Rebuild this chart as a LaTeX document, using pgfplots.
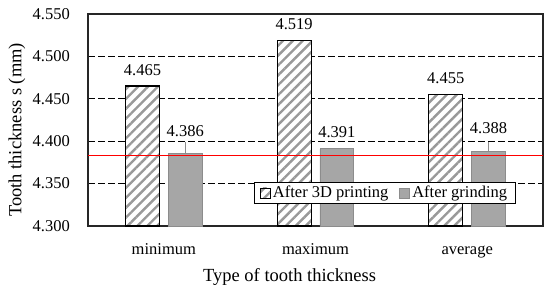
\documentclass[border=0pt]{standalone}
\usepackage{fontspec}
\setmainfont{Liberation Serif}
\usepackage{pgfplots}
\pgfplotsset{compat=1.18}
\usepackage{pgfplotstable}
\usetikzlibrary{patterns.meta}
\definecolor{hatchgray}{HTML}{999999}
\definecolor{bargray}{HTML}{A6A6A6}
\definecolor{bargrayedge}{HTML}{8C8C8C}
\definecolor{framecol}{HTML}{262626}
\definecolor{refred}{HTML}{FF0000}

\pgfplotstableread{
x y lbl lift
0 4.465 4.465 11
1 4.519 4.519 11
2 4.455 4.455 11
}\printing
\pgfplotstableread{
x y lbl lift
0 4.386 4.386 17
1 4.391 4.391 11.5
2 4.388 4.388 18
}\grinding
\pgfplotstableread{
x y err
0.141 4.386 0.013
2.141 4.388 0.011
}\grinderr
\pgfplotstableread{
x y
-0.5 4.383
2.5 4.383
}\refline

\pgfplotsset{barlabels/.style={
  nodes near coords={\pgfplotspointmeta},
  point meta=explicit symbolic,
  visualization depends on={\thisrow{lift}\as\lift},
  every node near coord/.append style={anchor=base, yshift=\lift pt, inner sep=0pt, black},
}}

\begin{document}
\begin{tikzpicture}[font=\fontsize{16.5}{19}\selectfont]
\begin{axis}[
  set layers,
  scale only axis,
  width=455pt, height=212pt,
  xmin=-0.5, xmax=2.5,
  ymin=4.3, ymax=4.55,
  ytick={4.30,4.35,4.40,4.45,4.50,4.55},
  yticklabels={4.300,4.350,4.400,4.450,4.500,4.550},
  xtick={0,1,2},
  xticklabels={minimum,maximum,average},
  major tick length=0pt,
  axis line style={framecol, line width=1.2pt},
  ymajorgrids,
  grid style={black, line width=1pt, dash pattern=on 7pt off 3pt},
  yticklabel style={anchor=east, inner sep=0pt, xshift=-18pt},
  xticklabel style={anchor=base, inner sep=0pt, yshift=-28pt},
  every axis y label/.style={at={(axis description cs:-0.156,0.453)}, anchor=center, rotate=90, font=\fontsize{18.5}{22}\selectfont},
  every axis x label/.style={at={(axis description cs:0.443,-0.263)}, anchor=base, font=\fontsize{18.5}{22}\selectfont},
  ylabel={Tooth thickness s (mm)},
  xlabel={Type of tooth thickness},
  ybar, bar width=0.224,
  legend columns=2,
  legend style={at={(0.652,0.156)}, anchor=center, draw=black, line width=0.9pt,
    inner xsep=6pt, inner ysep=2pt,
    /tikz/every even column/.append style={column sep=9pt}},
  legend image code/.code={\draw[#1, line width=0.8pt] (0pt,-5pt) rectangle (10pt,5pt);},
]
\addplot[color=refred, solid, line width=1.4pt, forget plot, sharp plot, no marks, on layer=axis foreground]
  table[x=x, y=y] {\refline};
\addplot[barlabels, bar shift=-0.141, draw=black, line width=1.2pt, fill=white,
  postaction={pattern={Lines[angle=45,distance=7pt,line width=2.4pt]}, pattern color=hatchgray}]
  table[x=x, y=y, meta=lbl] {\printing};
\addlegendentry{After 3D printing}
\addplot[barlabels, bar shift=0.141, draw=bargrayedge, line width=0.8pt, fill=bargray]
  table[x=x, y=y, meta=lbl] {\grinding};
\addlegendentry{After grinding}
\addplot[forget plot, sharp plot, draw=none, no marks, bar shift=0pt,
  error bars/.cd, y dir=plus, y explicit, error mark=none,
  error bar style={draw=bargrayedge, line width=0.6pt}]
  table[x=x, y=y, y error=err] {\grinderr};
\end{axis}
\pgfresetboundingbox
\path ([shift={(-88pt,-68pt)}]current axis.south west) rectangle ([shift={(7pt,14pt)}]current axis.north east);
\end{tikzpicture}
\end{document}
